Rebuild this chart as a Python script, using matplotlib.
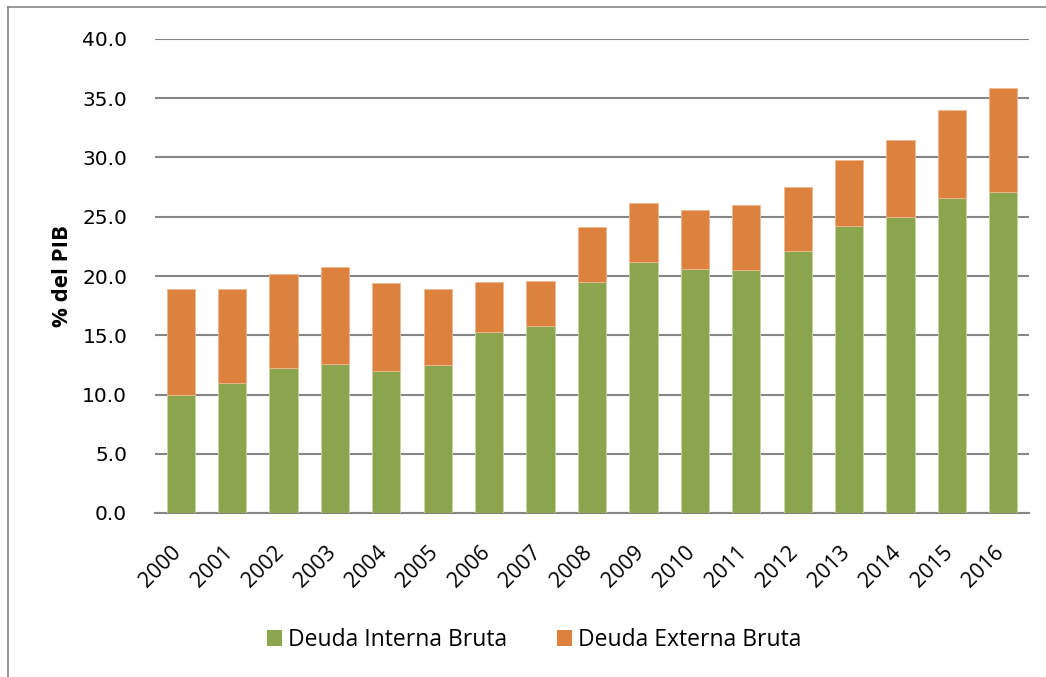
import matplotlib
matplotlib.use("Agg")
import matplotlib.pyplot as plt
from matplotlib.lines import Line2D
from matplotlib.patches import Patch
from matplotlib.transforms import ScaledTranslation
import numpy as np

years = ["2000", "2001", "2002", "2003", "2004", "2005", "2006", "2007", "2008",
         "2009", "2010", "2011", "2012", "2013", "2014", "2015", "2016"]
interna = [10.0, 11.0, 12.2, 12.6, 12.0, 12.5, 15.3, 15.8, 19.5,
           21.2, 20.6, 20.5, 22.1, 24.2, 25.0, 26.6, 27.1]
total = [18.9, 18.9, 20.2, 20.8, 19.4, 18.9, 19.5, 19.6, 24.1,
         26.2, 25.6, 26.0, 27.5, 29.8, 31.5, 34.0, 35.9]
externa = [round(t - i, 1) for t, i in zip(total, interna)]

green = "#8AA54E"
orange = "#DC823E"

plt.rcParams['font.family'] = ['Open Sans', 'DejaVu Sans']

W, H = 1046, 677
fig = plt.figure(figsize=(W / 100, H / 100), dpi=100)
ax = fig.add_axes([155 / W, 1 - 513 / H, (1029 - 155) / W, (513 - 39) / H])

x = np.arange(len(years))
ax.bar(x, interna, width=0.55, color=green, edgecolor="#C9D6A8", linewidth=0.6, zorder=3,
       label="Deuda Interna Bruta")
ax.bar(x, externa, bottom=interna, width=0.55, color=orange, edgecolor="#EDB890",
       linewidth=0.6, zorder=3, label="Deuda Externa Bruta")

ax.set_xlim(-0.5, len(years) - 0.5)
ax.set_ylim(0, 40)
yt = np.arange(0, 40.1, 5)
ax.set_yticks(yt)
ax.set_yticklabels([f"{v:.1f}" for v in yt], fontsize=14.5, family="DejaVu Sans")
ax.yaxis.grid(True, color="#868686", linewidth=1.5, zorder=0)
ax.set_axisbelow(True)
for s in ["top", "right", "left"]:
    ax.spines[s].set_visible(False)
ax.spines["bottom"].set_color("#868686")
ax.spines["bottom"].set_linewidth(1.5)
ax.tick_params(axis="y", length=0, pad=20)
ax.tick_params(axis="x", length=0, pad=0)
ax.set_xticks(x)
ax.set_xticklabels(years, rotation=45, ha="right", va="top", rotation_mode="anchor",
                   fontsize=15.5)
offset = ScaledTranslation(-10 / 100, -29 / 100, fig.dpi_scale_trans)
for lbl in ax.get_xticklabels():
    lbl.set_transform(lbl.get_transform() + offset)
ax.set_ylabel("% del PIB", fontsize=16, fontweight="bold", labelpad=7)

handles = [Patch(facecolor=green), Patch(facecolor=orange)]
fig.legend(handles, ["Deuda Interna Bruta", "Deuda Externa Bruta"], loc="center",
           bbox_to_anchor=(534 / W, 1 - 640 / H), ncol=2, frameon=False, fontsize=16.5,
           handlelength=0.65, handleheight=0.65, handletextpad=0.26, columnspacing=2.2)

# outer chart frame
fig.add_artist(Line2D([8 / W, 8 / W], [0, 1 - 7 / H], transform=fig.transFigure,
                      color="#868686", linewidth=1.2))
fig.add_artist(Line2D([8 / W, 1], [1 - 7 / H, 1 - 7 / H], transform=fig.transFigure,
                      color="#868686", linewidth=1.2))

fig.savefig("out.png", dpi=100)
